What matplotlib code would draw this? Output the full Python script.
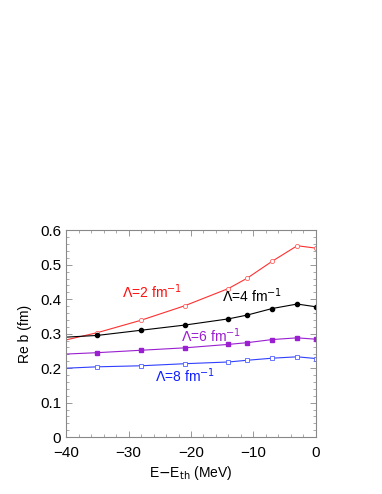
import numpy as np
import matplotlib
matplotlib.use("Agg")
import matplotlib.pyplot as plt
from matplotlib.ticker import MultipleLocator

plt.rcParams['font.family'] = ['Liberation Sans', 'DejaVu Sans']

# energies (MeV); first point sits on the left edge and has no marker
energy = [-40, -35, -28, -21, -14, -11, -7, -3, 0]
reb_L2 = [0.282, 0.303, 0.339, 0.381, 0.431, 0.461, 0.510, 0.555, 0.548]
reb_L4 = [0.290, 0.295, 0.310, 0.325, 0.343, 0.354, 0.373, 0.386, 0.378]
reb_L6 = [0.241, 0.245, 0.252, 0.259, 0.269, 0.274, 0.283, 0.288, 0.284]
reb_L8 = [0.200, 0.204, 0.207, 0.213, 0.218, 0.223, 0.229, 0.233, 0.228]

fig = plt.figure(figsize=(3.82, 4.94), dpi=100)
ax = fig.add_axes([0.173, 0.115, 0.654, 0.419])

mk = list(range(1, len(energy)))
ax.plot(energy, reb_L2, color='#ff3030', lw=0.8, marker='o', ms=3,
        mfc='white', mec='#ff6060', mew=0.6, markevery=mk)
ax.plot(energy, reb_L4, color='black', lw=0.8, marker='o', ms=3,
        mfc='black', mec='black', markevery=mk)
ax.plot(energy, reb_L6, color='#9a1fd0', lw=0.8, marker='s', ms=3,
        mfc='#9a1fd0', mec='#9a1fd0', markevery=mk)
ax.plot(energy, reb_L8, color='#3040ff', lw=0.8, marker='s', ms=3,
        mfc='white', mec='#5060ff', mew=0.6, markevery=mk)

kw = dict(fontsize=10, ha='center', va='center')
ax.text(-26.2, 0.422, r'$\Lambda$=2 fm$^{-1}$', color='#ff1010', **kw)
ax.text(-10.2, 0.410, r'$\Lambda$=4 fm$^{-1}$', color='black', **kw)
ax.text(-16.8, 0.294, r'$\Lambda$=6 fm$^{-1}$', color='#9a1fd0', **kw)
ax.text(-21.0, 0.177, r'$\Lambda$=8 fm$^{-1}$', color='#1020ff', **kw)

ax.set_xlim(-40, 0)
ax.set_ylim(0, 0.6)
ax.xaxis.set_major_locator(MultipleLocator(10))
ax.xaxis.set_minor_locator(MultipleLocator(2))
ax.yaxis.set_major_locator(MultipleLocator(0.1))
ax.yaxis.set_minor_locator(MultipleLocator(0.02))
ax.xaxis.set_major_formatter(plt.FuncFormatter(lambda v, p: f'{v:.0f}'.replace('-', '\u2212')))
ax.yaxis.set_major_formatter(plt.FuncFormatter(lambda v, p: '0' if v == 0 else f'{v:.1f}'))
ax.tick_params(which='both', direction='in', top=True, right=True, color='#888888',
               labelsize=11)
ax.tick_params(which='major', length=4, width=0.6)
ax.tick_params(which='minor', length=2, width=0.5)
ax.tick_params(axis='x', which='major', pad=6)
for s in ax.spines.values():
    s.set_color('#888888')
    s.set_linewidth(0.8)

ax.set_xlabel(r'E$-$E$_{\rm th}$ (MeV)', fontsize=10, labelpad=3)
ax.set_ylabel('Re b (fm)', fontsize=10, labelpad=6)

fig.savefig('out.png', dpi=100)
